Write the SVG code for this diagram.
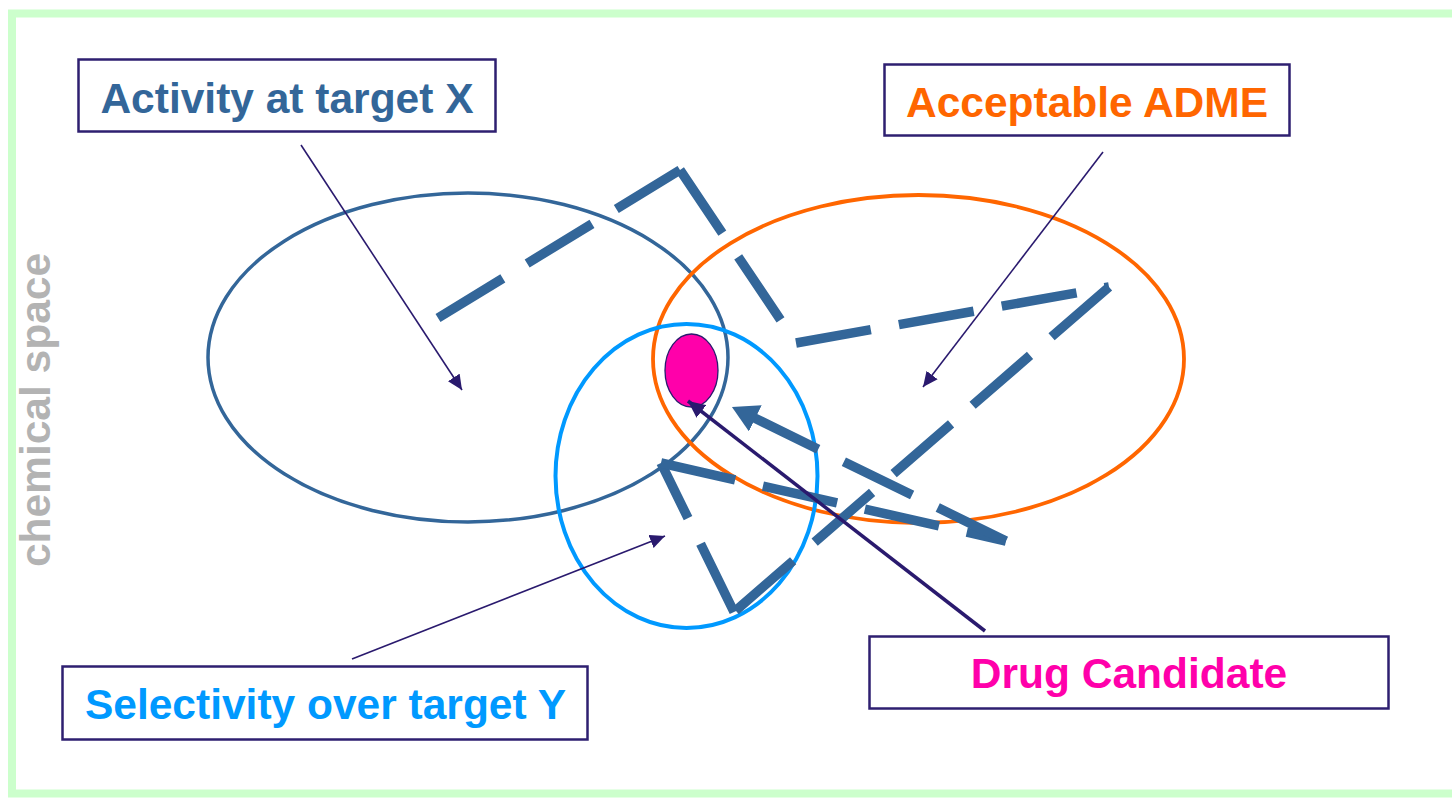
<svg xmlns="http://www.w3.org/2000/svg" width="1452" height="799" viewBox="0 0 1452 799">
  <style>
    .label { font-family: "Liberation Sans", Arial, sans-serif; font-weight: bold; font-size: 42.5px; text-anchor: middle; }
    .box { fill: #ffffff; stroke: #2e1f70; stroke-width: 2.5; }
    .region { fill: none; }
    .pointer { stroke: #2a1a6e; fill: none; }
    .route { stroke: #336699; stroke-width: 9.5; stroke-dasharray: 76 28.5; stroke-linecap: butt; fill: none; }
  </style>
  <defs>
    <marker id="head-thin" markerUnits="userSpaceOnUse" viewBox="0 0 15 14" refX="15" refY="7" markerWidth="15" markerHeight="14" orient="auto">
      <path d="M0,0 L15,7 L0,14 z" fill="#2a1a6e"/>
    </marker>
    <marker id="head-drug" markerUnits="userSpaceOnUse" viewBox="0 0 17 16" refX="17" refY="8" markerWidth="17" markerHeight="16" orient="auto">
      <path d="M0,0 L17,8 L0,16 z" fill="#2a1a6e"/>
    </marker>
    <marker id="head-route" markerUnits="userSpaceOnUse" viewBox="0 0 26 29" refX="2" refY="14.5" markerWidth="26" markerHeight="29" orient="auto">
      <path d="M0,0 L26,14.5 L0,29 z" fill="#336699"/>
    </marker>
  </defs>

  <!-- frame of the chemical space -->
  <rect x="12" y="13.5" width="1460" height="780" fill="#ffffff" stroke="#ccffcc" stroke-width="8"/>
  <text class="label" transform="translate(50,410) rotate(-90)" fill="#b3b3b3">chemical space</text>

  <!-- property regions -->
  <g id="region-activity">
    <ellipse class="region" cx="468" cy="357.5" rx="260" ry="164.5" stroke="#336699" stroke-width="3.5"/>
  </g>
  <g id="region-adme">
    <ellipse class="region" cx="918.5" cy="359" rx="265.5" ry="164" stroke="#ff6600" stroke-width="3.8"/>
  </g>
  <g id="region-selectivity">
    <ellipse class="region" cx="686.5" cy="476" rx="131" ry="152" stroke="#0099ff" stroke-width="4"/>
  </g>
  <g id="drug-candidate-spot">
    <ellipse cx="691.5" cy="370.5" rx="26.5" ry="36.5" fill="#ff00aa" stroke="#2a1a6e" stroke-width="1.3"/>
  </g>

  <!-- labels -->
  <g id="box-activity">
    <rect class="box" x="78.5" y="59.5" width="417" height="72"/>
    <text class="label" x="287" y="113" fill="#336699">Activity at target X</text>
  </g>
  <g id="box-adme">
    <rect class="box" x="884.5" y="64.5" width="405" height="71"/>
    <text class="label" x="1087" y="117" fill="#ff6600">Acceptable ADME</text>
  </g>
  <g id="box-selectivity">
    <rect class="box" x="62.5" y="666.5" width="525" height="73"/>
    <text class="label" x="325.5" y="719" fill="#0099ff">Selectivity over target Y</text>
  </g>
  <g id="box-drug">
    <rect class="box" x="869.5" y="636.5" width="519" height="72"/>
    <text class="label" x="1129" y="688" fill="#ff00aa">Drug Candidate</text>
  </g>

  <!-- connectors -->
  <g id="connectors">
    <!-- optimisation route through chemical space -->
    <line class="route" x1="438" y1="318" x2="680" y2="170"/>
    <line class="route" x1="680" y1="170" x2="796" y2="343"/>
    <line class="route" x1="796" y1="343" x2="1109" y2="287"/>
    <line class="route" x1="1109" y1="287" x2="734" y2="612"/>
    <line class="route" x1="734" y1="612" x2="661" y2="463"/>
    <line class="route" x1="661" y1="463" x2="1006" y2="541"/>
    <line class="route" x1="1006" y1="541" x2="753.5" y2="417.5" marker-end="url(#head-route)"/>

    <!-- label pointers -->
    <line class="pointer" stroke-width="1.6" x1="301" y1="145" x2="462" y2="390" marker-end="url(#head-thin)"/>
    <line class="pointer" stroke-width="1.6" x1="1103" y1="152" x2="923" y2="387" marker-end="url(#head-thin)"/>
    <line class="pointer" stroke-width="1.6" x1="352" y1="659" x2="665" y2="536" marker-end="url(#head-thin)"/>
    <line class="pointer" stroke-width="3.5" x1="985" y1="631" x2="688" y2="401" marker-end="url(#head-drug)"/>
  </g>
</svg>
